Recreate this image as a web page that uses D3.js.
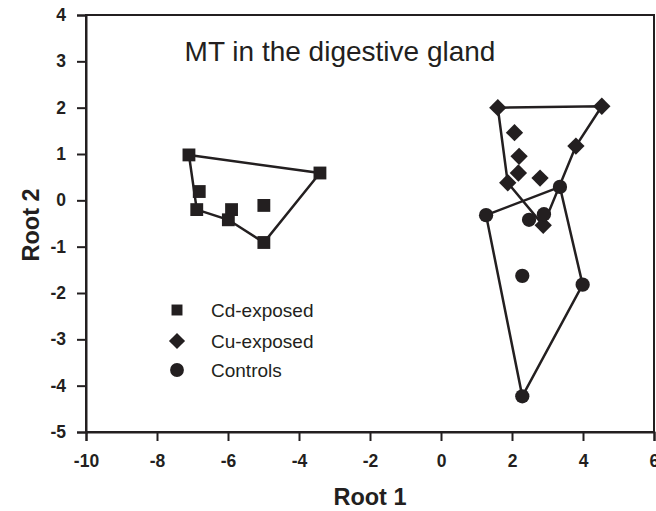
<!DOCTYPE html>
<html><head><meta charset="utf-8">
<script src="https://cdn.jsdelivr.net/npm/d3@7"></script>
<style>body{margin:0;background:#fff;} svg{display:block;} text{font-family:"Liberation Sans",Arial,sans-serif;fill:#231f20;}</style>
</head><body>
<svg id="chart" width="656" height="511"></svg>
<script>
const title = "MT in the digestive gland";
const xTicks = [-10,-8,-6,-4,-2,0,2,4,6];
const yTicks = [-5,-4,-3,-2,-1,0,1,2,3,4];
const groups = ["Cd-exposed","Cu-exposed","Controls"];
const cdX = [-7.1,-6.81,-6.88,-5.9,-5.99,-4.99,-4.99,-3.41];
const cdY = [0.98,0.19,-0.20,-0.20,-0.42,-0.11,-0.91,0.59];
const cdHull = [0,7,6,4,2];
const cuX = [1.60,4.53,2.07,2.20,3.80,2.18,2.79,1.88,2.88];
const cuY = [2.00,2.03,1.46,0.95,1.17,0.59,0.48,0.38,-0.54];
const cuHull = [0,1,4,8,7];
const ctX = [3.35,1.27,2.48,2.90,2.29,3.99,2.29];
const ctY = [0.29,-0.32,-0.42,-0.30,-1.63,-1.82,-4.23];
const ctHull = [1,0,5,6];

const ink = "#231f20";
const svg = d3.select("#chart");
const L=86,R=654,T=15,B=432;
const x = d3.scaleLinear().domain([-10,6]).range([L,R]);
const y = d3.scaleLinear().domain([-5,4]).range([B,T]);

// frame
svg.append("rect").attr("x",L).attr("y",T).attr("width",R-L).attr("height",B-T)
  .attr("fill","none").attr("stroke",ink).attr("stroke-width",2);

const fmt = d => String(d);
const xa = svg.append("g").attr("transform",`translate(0,${B})`)
  .call(d3.axisBottom(x).tickValues(xTicks).tickSize(9).tickPadding(14).tickFormat(fmt));
const ya = svg.append("g").attr("transform",`translate(${L},0)`)
  .call(d3.axisLeft(y).tickValues(yTicks).tickSize(9).tickPadding(11).tickFormat(fmt));
[xa,ya].forEach(a=>{
  a.select(".domain").attr("stroke",ink).attr("stroke-width",2);
  a.selectAll(".tick line").attr("stroke",ink).attr("stroke-width",2);
  a.selectAll(".tick text").attr("fill",ink).style("font-size","17.5px").style("font-weight","bold")
   .style("font-family","'Liberation Sans',Arial,sans-serif");
});
xa.selectAll(".tick text").filter(d=>d===6).attr("text-anchor","start").attr("dx","-5");

svg.append("text").attr("x",340).attr("y",61).attr("text-anchor","middle")
  .style("font-size","28px").text(title);
svg.append("text").attr("x",370).attr("y",505).attr("text-anchor","middle")
  .style("font-size","23.5px").style("font-weight","bold").text("Root 1");
svg.append("text").attr("transform","translate(39,225) rotate(-90)").attr("text-anchor","middle")
  .style("font-size","23.5px").style("font-weight","bold").text("Root 2");

const line = d3.line().x(d=>x(d[0])).y(d=>y(d[1])).curve(d3.curveLinearClosed);
function hull(xs,ys,idx){
  svg.append("path").attr("d",line(idx.map(i=>[xs[i],ys[i]])))
    .attr("fill","none").attr("stroke",ink).attr("stroke-width",2.5);
}
hull(cdX,cdY,cdHull); hull(cuX,cuY,cuHull); hull(ctX,ctY,ctHull);

const sq = d3.symbol().type(d3.symbolSquare).size(165)();
const dm = d3.symbol().type(d3.symbolSquare).size(150)();
const ci = d3.symbol().type(d3.symbolCircle).size(160)();
function pts(xs,ys,path,rot){
  svg.append("g").selectAll("path").data(xs.map((v,i)=>[v,ys[i]])).join("path")
    .attr("d",path).attr("fill",ink)
    .attr("transform",d=>`translate(${x(d[0])},${y(d[1])}) rotate(${rot})`);
}
pts(cdX,cdY,sq,0); pts(cuX,cuY,dm,45); pts(ctX,ctY,ci,0);

// legend
const legY=[310,341,370];
const legSym=[[d3.symbol().type(d3.symbolSquare).size(120)(),0],[d3.symbol().type(d3.symbolSquare).size(130)(),45],[d3.symbol().type(d3.symbolCircle).size(150)(),0]];
groups.forEach((g,i)=>{
  svg.append("path").attr("d",legSym[i][0]).attr("fill",ink)
    .attr("transform",`translate(177,${legY[i]}) rotate(${legSym[i][1]})`);
  svg.append("text").attr("x",211).attr("y",legY[i]+6.5).style("font-size","19px").text(g);
});
</script>
</body></html>
